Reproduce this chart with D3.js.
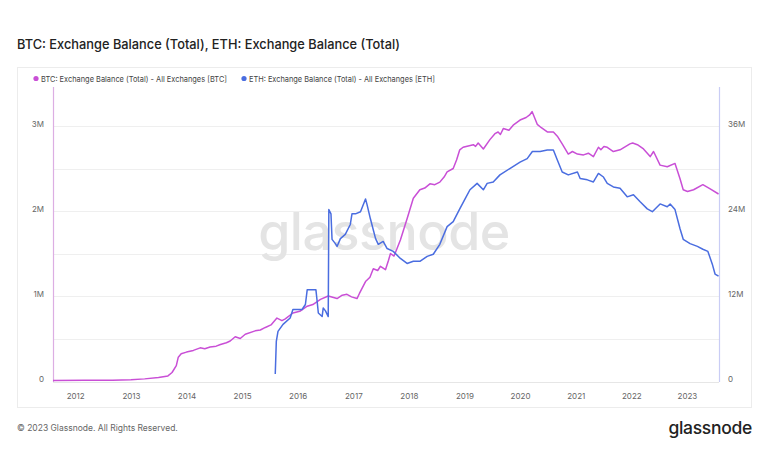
<!DOCTYPE html>
<html><head><meta charset="utf-8">
<script src="https://cdn.jsdelivr.net/npm/d3@7"></script>
<style>
html,body{margin:0;padding:0;background:#fff;}
svg{display:block;font-family:Inter, "Noto Sans", sans-serif;}
</style></head>
<body><svg id="c" width="768" height="463"></svg>
<script>
// ---- data (values in millions) ----
const titleText = "BTC: Exchange Balance (Total), ETH: Exchange Balance (Total)";
const seriesNames = ["BTC: Exchange Balance (Total) - All Exchanges [BTC]", "ETH: Exchange Balance (Total) - All Exchanges [ETH]"];
const yearTicks = [2012,2013,2014,2015,2016,2017,2018,2019,2020,2021,2022,2023];
const leftTicks = [0,1,2,3];
const leftTickLabels = ["0","1M","2M","3M"];
const rightTicks = [0,12,24,36];
const rightTickLabels = ["0","12M","24M","36M"];
const gridSteps = [0.5,1,1.5,2,2.5,3];

const btcDates = ["2011-08-08","2012-03-01","2012-09-01","2013-01-01","2013-04-01","2013-07-01","2013-09-01","2013-09-28","2013-10-26","2013-11-08","2013-11-27","2014-01-01","2014-02-15","2014-04-01","2014-05-01","2014-06-05","2014-07-15","2014-08-12","2014-09-20","2014-10-15","2014-11-17","2014-12-20","2015-01-22","2015-03-28","2015-05-01","2015-06-03","2015-07-10","2015-08-18","2015-09-20","2015-10-12","2015-12-01","2016-01-15","2016-03-04","2016-04-10","2016-05-30","2016-07-20","2016-09-16","2016-10-20","2016-11-20","2016-12-20","2017-01-25","2017-02-10","2017-03-22","2017-04-20","2017-05-12","2017-06-10","2017-06-28","2017-07-31","2017-08-20","2017-09-02","2017-09-25","2017-10-15","2017-11-06","2017-12-20","2018-01-30","2018-03-14","2018-04-15","2018-05-19","2018-06-20","2018-07-23","2018-08-20","2018-09-09","2018-10-19","2018-11-10","2018-12-01","2018-12-23","2019-02-28","2019-03-15","2019-04-01","2019-05-05","2019-06-17","2019-07-20","2019-08-10","2019-08-25","2019-09-13","2019-10-20","2019-11-17","2020-01-01","2020-02-10","2020-03-04","2020-03-20","2020-04-23","2020-05-20","2020-06-28","2020-08-07","2020-09-02","2020-10-04","2020-11-13","2020-12-10","2021-01-12","2021-02-21","2021-03-25","2021-04-27","2021-05-30","2021-06-15","2021-07-05","2021-07-27","2021-09-05","2021-10-19","2021-12-23","2022-01-10","2022-02-10","2022-03-22","2022-05-05","2022-05-27","2022-07-09","2022-08-25","2022-10-15","2022-11-17","2022-12-08","2023-01-05","2023-02-14","2023-04-16","2023-06-03","2023-07-28"];
const btcValues = [0.005,0.008,0.01,0.015,0.025,0.04,0.06,0.10,0.18,0.28,0.32,0.34,0.36,0.39,0.38,0.40,0.41,0.43,0.45,0.47,0.52,0.50,0.55,0.59,0.60,0.63,0.66,0.74,0.71,0.73,0.80,0.82,0.88,0.90,0.96,1.00,0.97,1.01,1.02,0.99,0.97,1.03,1.17,1.22,1.32,1.30,1.35,1.31,1.42,1.50,1.47,1.56,1.66,1.91,2.15,2.25,2.27,2.32,2.31,2.34,2.40,2.46,2.50,2.60,2.72,2.75,2.78,2.76,2.80,2.73,2.84,2.91,2.93,2.90,2.97,2.95,3.01,3.07,3.10,3.13,3.17,3.02,2.98,2.93,2.93,2.88,2.79,2.67,2.70,2.67,2.66,2.68,2.64,2.75,2.72,2.76,2.75,2.70,2.72,2.79,2.80,2.78,2.73,2.64,2.70,2.54,2.52,2.56,2.38,2.25,2.23,2.25,2.31,2.26,2.20];

const ethDates = ["2015-08-07","2015-08-14","2015-08-25","2015-09-27","2015-11-13","2015-12-01","2016-01-30","2016-02-21","2016-03-04","2016-04-05","2016-04-30","2016-05-08","2016-05-16","2016-06-10","2016-06-17","2016-07-02","2016-07-13","2016-07-20","2016-07-24","2016-08-07","2016-08-14","2016-09-05","2016-09-16","2016-10-08","2016-11-09","2016-12-12","2016-12-23","2017-01-15","2017-02-17","2017-03-22","2017-04-01","2017-04-23","2017-05-27","2017-06-14","2017-07-16","2017-08-11","2017-09-20","2017-11-06","2017-12-20","2018-01-30","2018-03-14","2018-05-01","2018-06-10","2018-07-23","2018-09-09","2018-10-19","2018-12-01","2019-01-05","2019-02-06","2019-03-25","2019-05-05","2019-05-30","2019-07-09","2019-08-22","2019-10-26","2020-01-01","2020-02-17","2020-03-22","2020-05-12","2020-06-28","2020-08-07","2020-09-02","2020-10-04","2020-11-13","2021-01-12","2021-01-30","2021-03-18","2021-04-27","2021-05-30","2021-07-02","2021-07-27","2021-09-05","2021-10-19","2021-12-05","2022-01-15","2022-02-28","2022-04-16","2022-05-19","2022-07-09","2022-08-25","2022-09-13","2022-10-15","2022-11-17","2022-12-08","2023-01-22","2023-03-11","2023-04-16","2023-05-19","2023-06-17","2023-07-05","2023-07-28"];
const ethValues = [0.98,5.6,7.0,8.0,8.9,10.1,10.1,10.8,12.9,12.9,12.9,11.3,9.6,9.1,10.3,9.9,9.4,9.1,24.2,23.6,20.0,19.4,19.0,20.1,20.7,22.1,23.6,23.6,23.9,25.7,24.9,22.9,20.1,19.3,19.7,18.7,18.3,17.3,16.6,16.9,16.9,17.6,17.9,19.3,21.8,22.5,24.3,25.7,27.0,27.9,27.0,27.9,28.1,29.1,30.0,30.9,31.4,32.4,32.4,32.6,32.6,31.2,29.5,29.1,29.5,28.6,28.4,28.1,29.3,28.8,27.9,27.4,27.2,26.0,26.3,25.3,24.3,23.9,25.0,24.6,25.0,24.2,21.5,20.0,19.4,19.0,18.6,18.3,16.5,15.1,14.8];

const btcColor = "#c94fd6";
const ethColor = "#4a6de0";

// ---- layout ----
const svg = d3.select("#c");
const parse = d3.timeParse("%Y-%m-%d");
const L = 53, R = 719, T = 87, B = 381;

const x = d3.scaleTime().domain([parse("2011-08-08"), parse("2023-07-31")]).range([L, R]);
const yL = d3.scaleLinear().domain([0, 3.459]).range([B, T]);
const yR = d3.scaleLinear().domain([0, 3.459*12]).range([B, T]);

// title
svg.append("text").attr("x",17).attr("y",49).attr("font-size",13.2).attr("font-weight",500)
  .attr("fill","#222").attr("textLength",383).attr("lengthAdjust","spacingAndGlyphs").text(titleText);

// panel
svg.append("rect").attr("x",17.5).attr("y",67.5).attr("width",734).attr("height",340)
  .attr("fill","#fff").attr("stroke","#ececec");

// legend
const legX = [36, 244];
seriesNames.forEach((n,i)=>{
  svg.append("circle").attr("cx",legX[i]).attr("cy",78.5).attr("r",2.6).attr("fill",[btcColor,ethColor][i]);
  svg.append("text").attr("x",legX[i]+5).attr("y",81.5).attr("font-size",8).attr("fill","#444")
    .attr("textLength",186).attr("lengthAdjust","spacingAndGlyphs").text(n);
});

// gridlines
svg.append("g").selectAll("line").data(gridSteps).join("line")
  .attr("x1",L).attr("x2",R).attr("y1",d=>Math.round(yL(d))+0.5).attr("y2",d=>Math.round(yL(d))+0.5)
  .attr("stroke","#efefef");
svg.append("line").attr("x1",L).attr("x2",R).attr("y1",B+1.5).attr("y2",B+1.5).attr("stroke","#e6e6e6");

// watermark
svg.append("text").attr("x",384).attr("y",250).attr("text-anchor","middle").attr("font-size",52)
  .attr("font-weight",500).attr("fill","#e4e4e4").attr("letter-spacing",-0.5).text("glassnode");

// axis lines
svg.append("line").attr("x1",L+0.5).attr("x2",L+0.5).attr("y1",T).attr("y2",B+1).attr("stroke","#dcaee3").attr("stroke-width",1.2);
svg.append("line").attr("x1",R+0.5).attr("x2",R+0.5).attr("y1",T).attr("y2",B+1).attr("stroke","#c9cdf5").attr("stroke-width",1.2);

// axes
const axL = d3.axisLeft(yL).tickValues(leftTicks).tickFormat((d,i)=>leftTickLabels[i]).tickSize(0).tickPadding(9);
const axR = d3.axisRight(yR).tickValues(rightTicks).tickFormat((d,i)=>rightTickLabels[i]).tickSize(0).tickPadding(9);
const axB = d3.axisBottom(x).tickValues(yearTicks.map(yv=>new Date(yv,0,1))).tickFormat(d3.timeFormat("%Y")).tickSize(0).tickPadding(12);
function styleAxis(g){ g.select(".domain").remove(); g.selectAll("text").attr("fill","#666").attr("font-size",8).attr("font-family","Inter, sans-serif"); }
svg.append("g").attr("transform",`translate(${L},-2)`).call(axL).call(styleAxis);
svg.append("g").attr("transform",`translate(${R},-2)`).call(axR).call(styleAxis);
svg.append("g").attr("transform",`translate(0,${B})`).call(axB).call(styleAxis);

// lines
const line = (ys)=>d3.line().x(d=>x(d[0])).y(d=>ys(d[1]));
const btc = btcDates.map((d,i)=>[parse(d), btcValues[i]]);
const eth = ethDates.map((d,i)=>[parse(d), ethValues[i]]);
svg.append("path").datum(btc).attr("d",line(yL)).attr("fill","none").attr("stroke",btcColor).attr("stroke-width",1.5).attr("stroke-linejoin","round");
svg.append("path").datum(eth).attr("d",line(yR)).attr("fill","none").attr("stroke",ethColor).attr("stroke-width",1.5).attr("stroke-linejoin","round");

// footer
svg.append("text").attr("x",17).attr("y",431).attr("font-size",8.5).attr("fill","#666").text("© 2023 Glassnode. All Rights Reserved.");
svg.append("text").attr("x",752).attr("y",434).attr("text-anchor","end").attr("font-size",17.5).attr("font-weight",500).attr("fill","#222").attr("letter-spacing",-0.3).text("glassnode");
</script></body></html>
